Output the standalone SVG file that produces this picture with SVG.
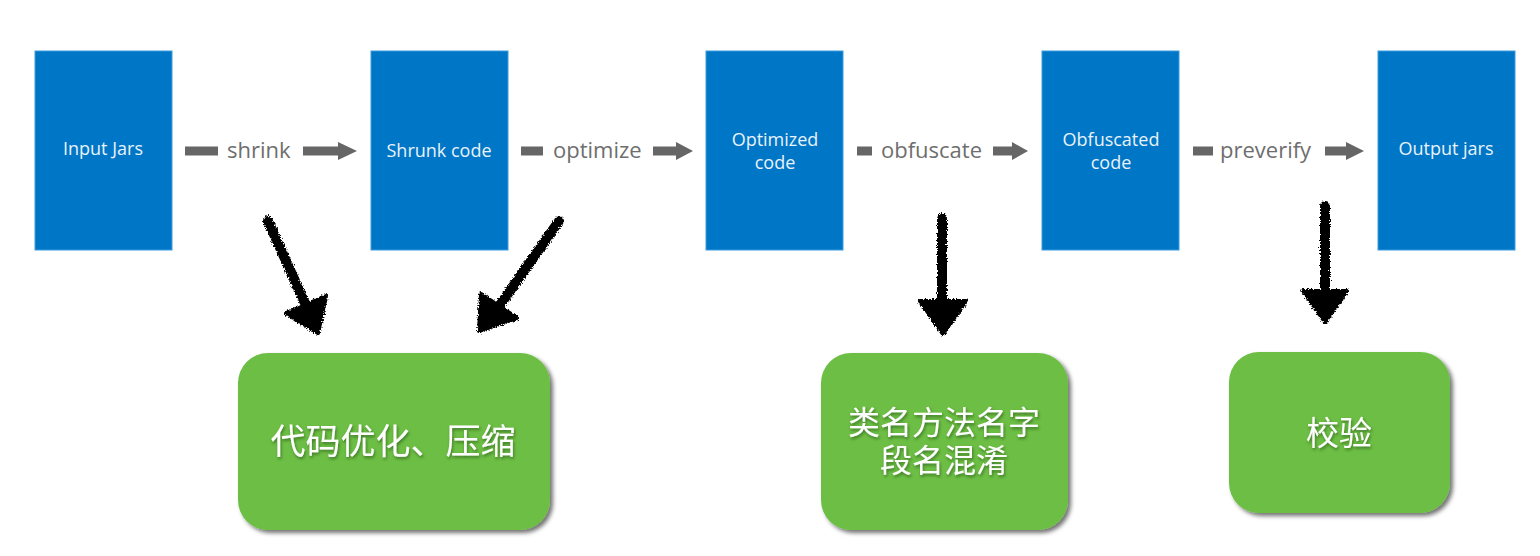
<svg xmlns="http://www.w3.org/2000/svg" width="1540" height="556" viewBox="0 0 1540 556">
<style>
.blue{fill:#0076C6;stroke:#3D9BE0;stroke-width:1}
.bt{font-family:"Open Sans","Liberation Sans",sans-serif;font-size:18px;fill:#EAF2FA;text-anchor:middle}
.lab{font-family:"Open Sans","Liberation Sans",sans-serif;font-size:22px;fill:#6E6E6E}
.gray{fill:#666666}
.green{fill:#6DBE45}
.gt{font-family:"Noto Sans CJK SC","Liberation Sans",sans-serif;fill:#FFFFFF;text-anchor:middle}
.sk{stroke:#000;stroke-width:10;stroke-linecap:round;fill:none}
.skh{fill:#000;stroke:#000;stroke-width:4;stroke-linejoin:round}
</style>
<defs>
<filter id="shadow" x="-10%" y="-10%" width="125%" height="125%">
<feDropShadow dx="3" dy="3" stdDeviation="2" flood-color="#000" flood-opacity="0.55"/>
</filter>
<filter id="tshadow" x="-10%" y="-20%" width="120%" height="150%">
<feDropShadow dx="1" dy="2" stdDeviation="1.5" flood-color="#1E4A10" flood-opacity="0.6"/>
</filter>
<filter id="rough" x="-20%" y="-20%" width="140%" height="140%">
<feTurbulence type="fractalNoise" baseFrequency="0.7" numOctaves="2" seed="3" result="n"/>
<feDisplacementMap in="SourceGraphic" in2="n" scale="5" xChannelSelector="R" yChannelSelector="G"/>
</filter>
</defs>
<rect width="1540" height="556" fill="#FFFFFF"/>

<g id="node-input-jars">
<rect class="blue" x="35" y="51" width="137" height="199"/>
<text class="bt" x="103" y="155">Input Jars</text>
</g>
<g id="node-shrunk-code">
<rect class="blue" x="371" y="51" width="137" height="199"/>
<text class="bt" x="439" y="157">Shrunk code</text>
</g>
<g id="node-optimized-code">
<rect class="blue" x="706" y="51" width="137" height="199"/>
<text class="bt" x="775" y="146">Optimized</text>
<text class="bt" x="775" y="169">code</text>
</g>
<g id="node-obfuscated-code">
<rect class="blue" x="1042" y="51" width="137" height="199"/>
<text class="bt" x="1111" y="146">Obfuscated</text>
<text class="bt" x="1111" y="169">code</text>
</g>
<g id="node-output-jars">
<rect class="blue" x="1378" y="51" width="137" height="199"/>
<text class="bt" x="1446" y="155">Output jars</text>
</g>

<g id="node-optimize-shrink">
<rect class="green" x="238" y="353" width="312" height="177" rx="30" filter="url(#shadow)"/>
<text class="gt" x="393" y="454" font-size="35" filter="url(#tshadow)">代码优化、压缩</text>
</g>
<g id="node-obfuscate-names">
<rect class="green" x="821" y="353" width="247" height="177" rx="30" filter="url(#shadow)"/>
<text class="gt" font-size="32" filter="url(#tshadow)"><tspan x="944" y="434">类名方法名字</tspan><tspan x="944" y="472">段名混淆</tspan></text>
</g>
<g id="node-verify">
<rect class="green" x="1229" y="352" width="221" height="161" rx="30" filter="url(#shadow)"/>
<text class="gt" x="1339" y="445" font-size="33" filter="url(#tshadow)">校验</text>
</g>

<g id="connectors">
<g id="edge-shrink">
<rect class="gray" x="185" y="146.5" width="33" height="9"/>
<text class="lab" x="227" y="158">shrink</text>
<polygon class="gray" points="303,146.5 338,146.5 338,142 357,151 338,160 338,155.5 303,155.5"/>
</g>
<g id="edge-optimize">
<rect class="gray" x="521" y="146.5" width="22" height="9"/>
<text class="lab" x="553" y="158">optimize</text>
<polygon class="gray" points="653,146.5 676,146.5 676,142 693,151 676,160 676,155.5 653,155.5"/>
</g>
<g id="edge-obfuscate">
<rect class="gray" x="857" y="146.5" width="15" height="9"/>
<text class="lab" x="881" y="158">obfuscate</text>
<polygon class="gray" points="993,146.5 1012,146.5 1012,142 1028,151 1012,160 1012,155.5 993,155.5"/>
</g>
<g id="edge-preverify">
<rect class="gray" x="1193" y="146.5" width="20" height="9"/>
<text class="lab" x="1220" y="158">preverify</text>
<polygon class="gray" points="1325,146.5 1346,146.5 1346,142 1364,151 1346,160 1346,155.5 1325,155.5"/>
</g>
<g id="sketch-arrows" filter="url(#rough)">
<line class="sk" x1="268" y1="221" x2="308" y2="310"/>
<polygon class="skh" points="286,313 326,296 318,333"/>
<line class="sk" x1="559" y1="221" x2="500" y2="305"/>
<polygon class="skh" points="481,294 517,318 479,331"/>
<line class="sk" x1="942" y1="218" x2="942" y2="305"/>
<polygon class="skh" points="920,301 966,301 943,334"/>
<line class="sk" x1="1325" y1="206" x2="1325" y2="292"/>
<polygon class="skh" points="1303,291 1347,291 1325,322"/>
</g>
</g>
</svg>
